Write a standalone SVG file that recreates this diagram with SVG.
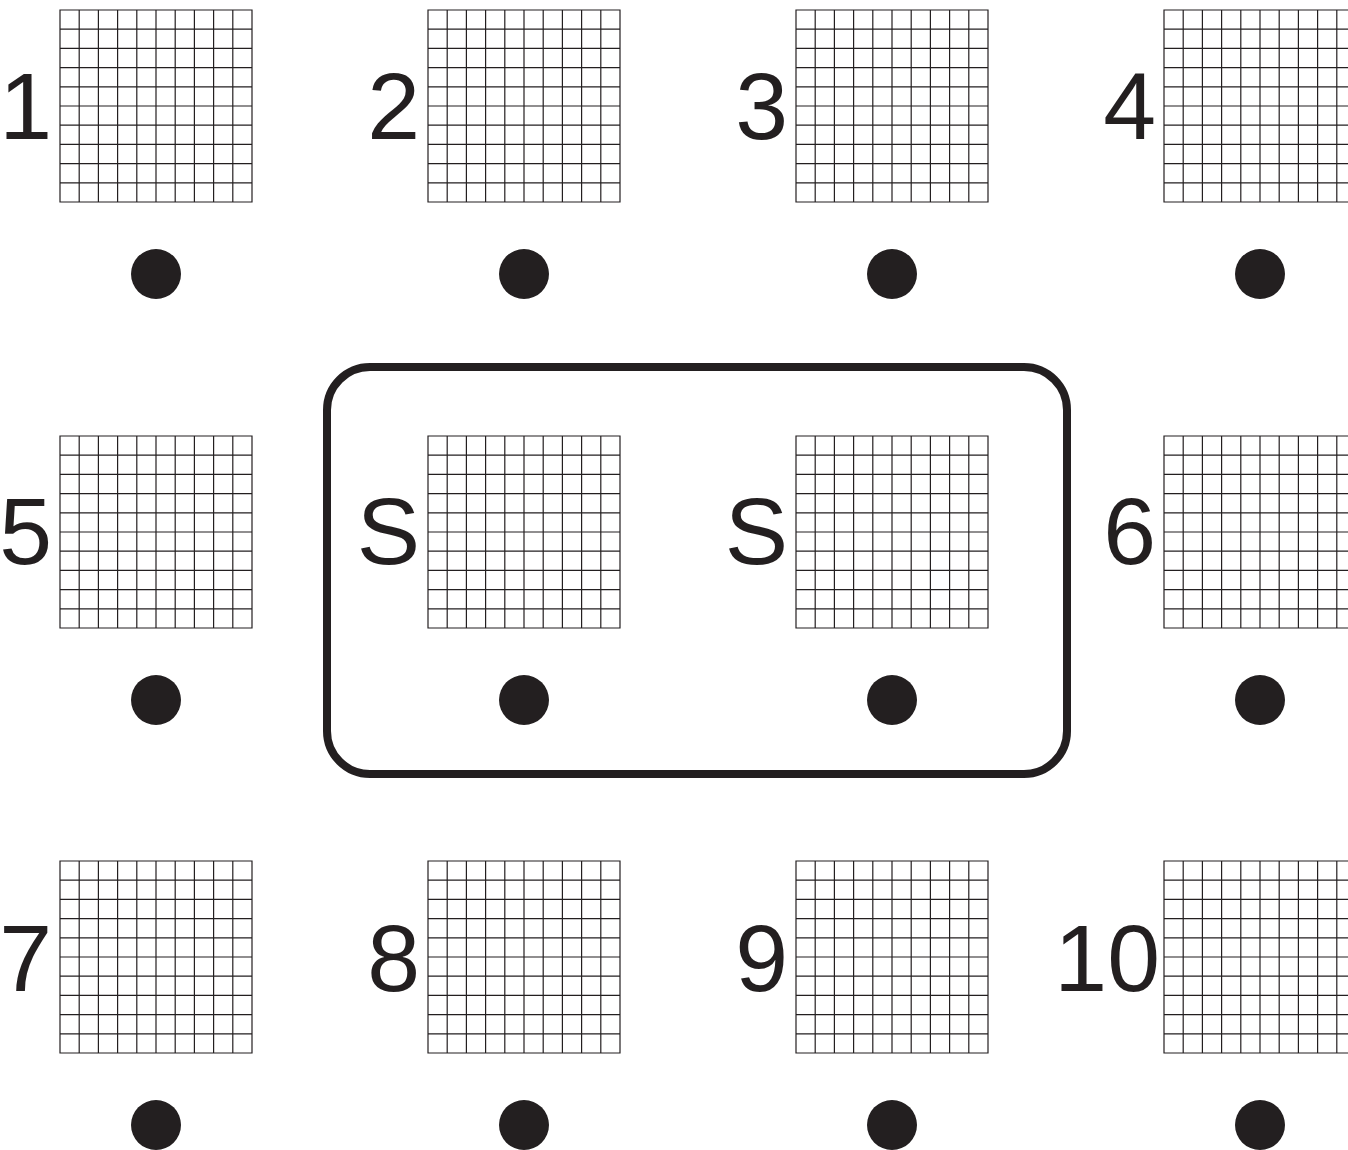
<svg xmlns="http://www.w3.org/2000/svg" width="1348" height="1150" viewBox="0 0 1348 1150">
<style>
.lbl{font-family:"Liberation Sans",Arial,sans-serif;font-size:95px;fill:#231f20;text-anchor:end}
.dot{fill:#231f20}
.grid{fill:none;stroke:#231f20;stroke-width:1.2}
.frame{fill:none;stroke:#231f20;stroke-width:8}
</style>
<defs>
<path id="grid" class="grid" d="M0,0H192V192H0Z M19.2,0V192 M38.4,0V192 M57.6,0V192 M76.8,0V192 M96,0V192 M115.2,0V192 M134.4,0V192 M153.6,0V192 M172.8,0V192 M0,19.2H192 M0,38.4H192 M0,57.6H192 M0,76.8H192 M0,96H192 M0,115.2H192 M0,134.4H192 M0,153.6H192 M0,172.8H192"/>
</defs>
<rect width="1348" height="1150" fill="#fff"/>
<g id="connectors"></g>
<g id="group-s">
<rect class="frame" x="327" y="367" width="740" height="407" rx="43" ry="43"/>
</g>
<g id="node-1"><use href="#grid" x="60" y="10"/><text class="lbl" x="52" y="139">1</text><circle class="dot" cx="156" cy="274" r="25"/></g>
<g id="node-2"><use href="#grid" x="428" y="10"/><text class="lbl" x="420" y="139">2</text><circle class="dot" cx="524" cy="274" r="25"/></g>
<g id="node-3"><use href="#grid" x="796" y="10"/><text class="lbl" x="788" y="139">3</text><circle class="dot" cx="892" cy="274" r="25"/></g>
<g id="node-4"><use href="#grid" x="1164" y="10"/><text class="lbl" x="1156" y="139">4</text><circle class="dot" cx="1260" cy="274" r="25"/></g>
<g id="node-5"><use href="#grid" x="60" y="436"/><text class="lbl" x="52" y="564">5</text><circle class="dot" cx="156" cy="700" r="25"/></g>
<g id="node-s1"><use href="#grid" x="428" y="436"/><text class="lbl" x="420" y="564">S</text><circle class="dot" cx="524" cy="700" r="25"/></g>
<g id="node-s2"><use href="#grid" x="796" y="436"/><text class="lbl" x="788" y="564">S</text><circle class="dot" cx="892" cy="700" r="25"/></g>
<g id="node-6"><use href="#grid" x="1164" y="436"/><text class="lbl" x="1156" y="564">6</text><circle class="dot" cx="1260" cy="700" r="25"/></g>
<g id="node-7"><use href="#grid" x="60" y="861"/><text class="lbl" x="52" y="991">7</text><circle class="dot" cx="156" cy="1125" r="25"/></g>
<g id="node-8"><use href="#grid" x="428" y="861"/><text class="lbl" x="420" y="991">8</text><circle class="dot" cx="524" cy="1125" r="25"/></g>
<g id="node-9"><use href="#grid" x="796" y="861"/><text class="lbl" x="788" y="991">9</text><circle class="dot" cx="892" cy="1125" r="25"/></g>
<g id="node-10"><use href="#grid" x="1164" y="861"/><text class="lbl" x="1160" y="991">10</text><circle class="dot" cx="1260" cy="1125" r="25"/></g>
</svg>
